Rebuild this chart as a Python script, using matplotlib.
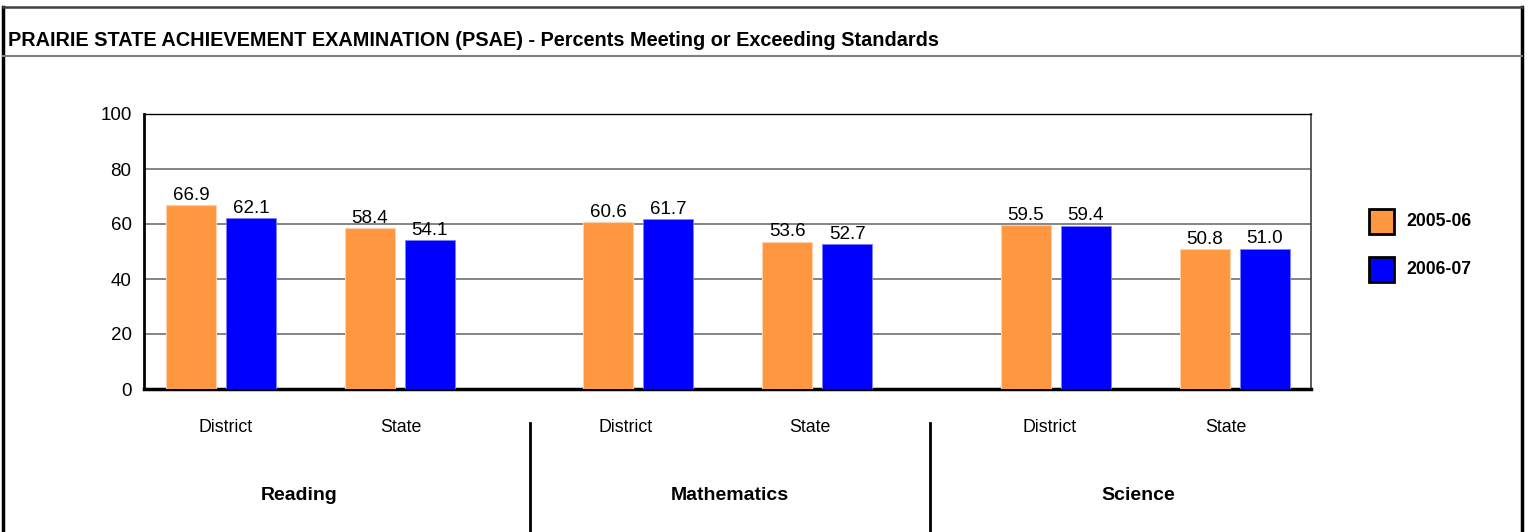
import numpy as np
import matplotlib
matplotlib.use("Agg")
import matplotlib.pyplot as plt
from matplotlib.lines import Line2D
from matplotlib.patches import Rectangle

# Data
subjects = ["Reading", "Mathematics", "Science"]
groups = ["District", "State"]
years = ["2005-06", "2006-07"]
vals_0506 = [66.9, 58.4, 60.6, 53.6, 59.5, 50.8]
vals_0607 = [62.1, 54.1, 61.7, 52.7, 59.4, 51.0]
yticks = [0, 20, 40, 60, 80, 100]

col_orange = "#FF9640"
col_blue = "#0000FF"

plt.rcParams["font.family"] = ["Liberation Sans", "DejaVu Sans"]

W, H = 1531, 532
fig = plt.figure(figsize=(W / 100, H / 100), dpi=100)


def fx(x):
    return x / W


def fy(y):
    return 1 - y / H


# Outer frame (no bottom edge) and title separator
fig.add_artist(Line2D([fx(3), fx(3)], [fy(7), 0], color="black", linewidth=2.5,
                      transform=fig.transFigure))
fig.add_artist(Line2D([fx(1522), fx(1522)], [fy(7), 0], color="black", linewidth=2.5,
                      transform=fig.transFigure))
fig.add_artist(Line2D([fx(3), fx(1522)], [fy(7), fy(7)], color="#404040", linewidth=1.8,
                      transform=fig.transFigure))
fig.add_artist(Line2D([fx(3), fx(1522)], [fy(56), fy(56)], color="#808080",
                      linewidth=1.5, transform=fig.transFigure))
fig.text(fx(8), fy(40), "PRAIRIE STATE ACHIEVEMENT EXAMINATION (PSAE) - Percents Meeting or Exceeding Standards",
         fontsize=14.3, fontweight="bold", ha="left", va="center")

# Plot area
ax = fig.add_axes([fx(144), fy(389), fx(1311) - fx(144), (389 - 114) / H])

# positions: district/state 1 apart, subjects 2.332 apart
step = 2.332
pos = []
for i in range(len(subjects)):
    pos += [i * step, i * step + 1]
pos = np.array(pos)
bw = 0.279
off = 0.1676

ax.bar(pos - off, vals_0506, bw, color=col_orange, edgecolor="#FFD0A8", linewidth=0.8, zorder=3)
ax.bar(pos + off, vals_0607, bw, color=col_blue, edgecolor="#8080FF", linewidth=0.6, zorder=3)
for xs, vs in [(pos - off, vals_0506), (pos + off, vals_0607)]:
    for x, v in zip(xs, vs):
        ax.annotate(f"{v:.1f}", (x, v), xytext=(0, 3.8), textcoords="offset points",
                    ha="center", va="baseline", fontsize=13.5)

ax.set_xlim(-0.43, 6.09)
ax.set_ylim(0, 100)
ax.set_yticks(yticks)
ax.set_yticklabels([str(t) for t in yticks], fontsize=13.5)
ax.tick_params(axis="y", length=0, pad=9)
ax.set_xticks([])
ax.yaxis.grid(True, color="#707070", linewidth=1.2, zorder=0)
ax.set_axisbelow(True)
ax.spines["right"].set_color("#404040")
ax.spines["right"].set_linewidth(1.2)
ax.spines["top"].set_color("black")
ax.spines["top"].set_linewidth(1.0)
ax.spines["left"].set_linewidth(2)
ax.spines["bottom"].set_linewidth(2.5)

# Category and subject labels (pixel x positions as in the original layout)
cat_x = [226, 401, 626, 810, 1050, 1226]
subj_x = [299, 730, 1138]
for i, xp in enumerate(cat_x):
    fig.text(fx(xp), fy(427), groups[i % 2], ha="center", va="center", fontsize=12.8)
for s, xp in zip(subjects, subj_x):
    fig.text(fx(xp), fy(495), s, ha="center", va="center", fontsize=14, fontweight="bold")

# separators
for xs in [530, 930]:
    fig.add_artist(Line2D([fx(xs), fx(xs)], [fy(423), 0], color="black",
                          linewidth=2, transform=fig.transFigure))

# Legend
for j, (lab, c) in enumerate(zip(years, [col_orange, col_blue])):
    y0 = 209 + j * 48
    fig.add_artist(Rectangle((fx(1369), fy(y0 + 25)), 25 / W, 25 / H, facecolor=c,
                             edgecolor="black", linewidth=2, transform=fig.transFigure))
    fig.text(fx(1406), fy(y0 + 12.5), lab, fontsize=12.7, fontweight="bold",
             ha="left", va="center")

fig.savefig("out.png", dpi=100)
